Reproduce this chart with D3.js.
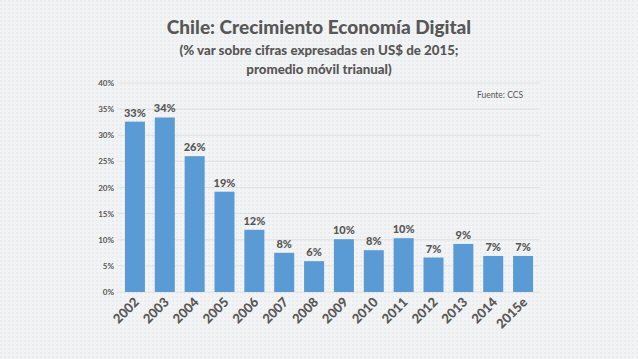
<!DOCTYPE html>
<html><head><meta charset="utf-8">
<script src="https://cdn.jsdelivr.net/npm/d3@7"></script>
<style>html,body{margin:0;padding:0;background:#f1f2f3;}svg{display:block;}</style>
</head><body>
<script>
const years = ["2002","2003","2004","2005","2006","2007","2008","2009","2010","2011","2012","2013","2014","2015e"];
const values = [32.6,33.4,26.0,19.2,11.9,7.5,5.9,10.1,8.0,10.3,6.6,9.2,6.9,6.9];
const labels = ["33%","34%","26%","19%","12%","8%","6%","10%","8%","10%","7%","9%","7%","7%"];
const yTicks = [0,5,10,15,20,25,30,35,40];
const title = "Chile: Crecimiento Economía Digital";
const subtitle = ["(% var sobre cifras expresadas en US$ de 2015;","promedio móvil trianual)"];
const source = "Fuente: CCS";

const W = 638, H = 359;
const font = "Lato, 'Open Sans', sans-serif";
const txt = "#575757";
const svg = d3.select("body").append("svg").attr("width", W).attr("height", H);

const defs = svg.append("defs");
const pat = defs.append("pattern").attr("id","dots").attr("width",4).attr("height",4).attr("patternUnits","userSpaceOnUse");
pat.append("rect").attr("width",4).attr("height",4).attr("fill","#f2f3f4");
pat.append("rect").attr("x",0).attr("y",0).attr("width",2).attr("height",2).attr("fill","#ebecee");
svg.append("rect").attr("width",W).attr("height",H).attr("fill","url(#dots)");

const x = d3.scaleBand().domain(years).range([120, 538]).paddingInner(0.33).paddingOuter(0.165);
const y = d3.scaleLinear().domain([0, 40]).range([292, 83]);

// gridlines
svg.append("g").selectAll("line").data(yTicks).join("line")
  .attr("x1", 118).attr("x2", 540)
  .attr("y1", d => y(d)).attr("y2", d => y(d))
  .attr("stroke", "#dcdcdc").attr("stroke-width", 0.8);

// y axis
const yAxis = svg.append("g").attr("transform", "translate(114,0)")
  .call(d3.axisLeft(y).tickValues(yTicks).tickFormat(d => d + "%").tickSize(0).tickPadding(0));
yAxis.select(".domain").remove();
yAxis.selectAll("text").attr("fill", txt).style("font", "bold 8px " + font);

// bars
svg.append("g").selectAll("rect").data(values).join("rect")
  .attr("x", (d, i) => x(years[i])).attr("width", x.bandwidth())
  .attr("y", d => y(d)).attr("height", d => y(0) - y(d))
  .attr("fill", "#5b9bd5");

// data labels
svg.append("g").selectAll("text").data(values).join("text")
  .attr("x", (d, i) => x(years[i]) + x.bandwidth() / 2)
  .attr("y", d => y(d) - 5)
  .attr("text-anchor", "middle").attr("fill", txt)
  .style("font", "900 11px " + font)
  .text((d, i) => labels[i]);

// x axis
const xAxis = svg.append("g").attr("transform", "translate(0,292)")
  .call(d3.axisBottom(x).tickSize(0).tickPadding(0));
xAxis.select(".domain").remove();
xAxis.selectAll("text")
  .attr("fill", txt).style("font", "900 13px " + font)
  .attr("text-anchor", "end")
  .attr("dy", 0).attr("y", 0)
  .attr("transform", "translate(5,11) rotate(-45)");

// titles
svg.append("text").attr("x", 319).attr("y", 34).attr("text-anchor", "middle")
  .attr("fill", txt).style("font", "900 19px " + font).text(title);
svg.append("g").selectAll("text").data(subtitle).join("text")
  .attr("x", 319).attr("y", (d, i) => 55 + i * 19).attr("text-anchor", "middle")
  .attr("fill", txt).style("font", "900 13.3px " + font).text(d => d);

svg.append("text").attr("x", 523).attr("y", 98).attr("text-anchor", "end")
  .attr("fill", txt).style("font", "8.5px " + font).text(source);
</script>
</body></html>
